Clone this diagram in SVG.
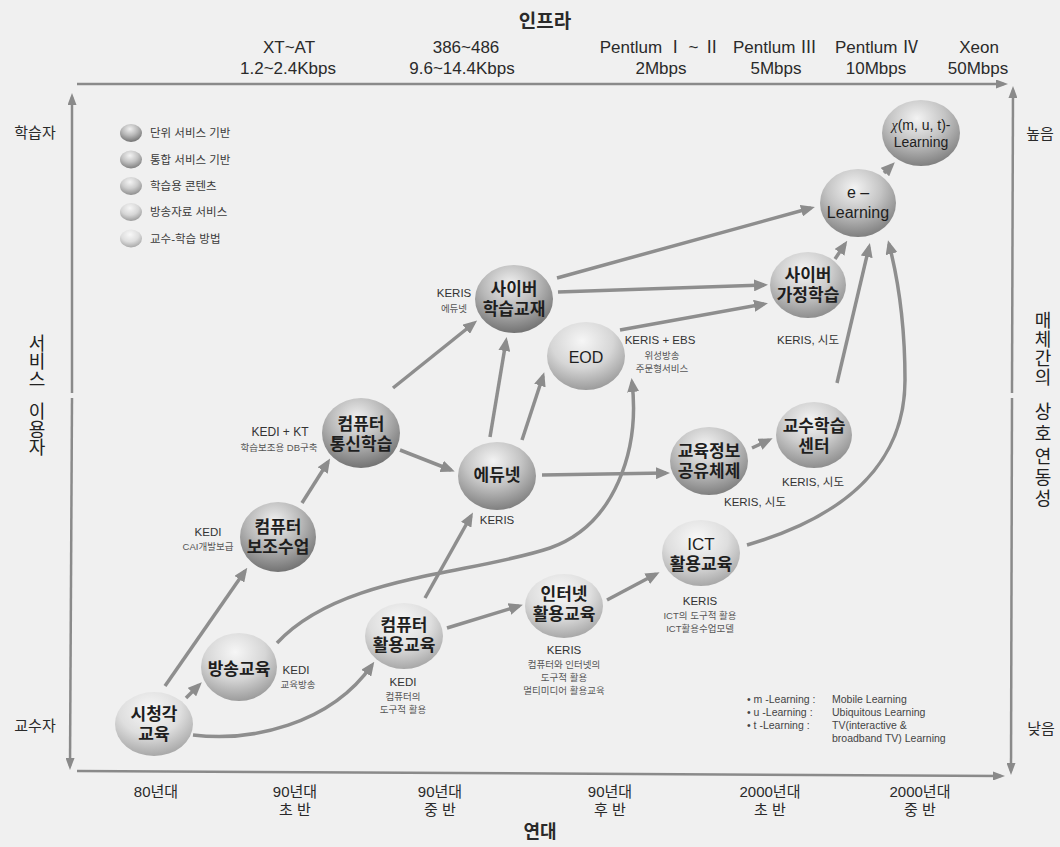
<svg xmlns="http://www.w3.org/2000/svg" width="1060" height="847" viewBox="0 0 1060 847">
<defs>
  <radialGradient id="g1" cx="0.45" cy="0.28" r="0.72">
    <stop offset="0" stop-color="#f0f0f0"/>
    <stop offset="0.5" stop-color="#b8b8b8"/>
    <stop offset="1" stop-color="#737373"/>
  </radialGradient>
  <radialGradient id="g2" cx="0.45" cy="0.28" r="0.72">
    <stop offset="0" stop-color="#f3f3f3"/>
    <stop offset="0.5" stop-color="#c4c4c4"/>
    <stop offset="1" stop-color="#808080"/>
  </radialGradient>
  <radialGradient id="g3" cx="0.45" cy="0.28" r="0.72">
    <stop offset="0" stop-color="#f4f4f4"/>
    <stop offset="0.5" stop-color="#cdcdcd"/>
    <stop offset="1" stop-color="#8e8e8e"/>
  </radialGradient>
  <radialGradient id="g4" cx="0.45" cy="0.28" r="0.72">
    <stop offset="0" stop-color="#f6f6f6"/>
    <stop offset="0.55" stop-color="#d6d6d6"/>
    <stop offset="1" stop-color="#9c9c9c"/>
  </radialGradient>
  <radialGradient id="g5" cx="0.45" cy="0.28" r="0.72">
    <stop offset="0" stop-color="#f8f8f8"/>
    <stop offset="0.55" stop-color="#dedede"/>
    <stop offset="1" stop-color="#a8a8a8"/>
  </radialGradient>
  <marker id="ah" markerUnits="userSpaceOnUse" markerWidth="14" markerHeight="12" refX="10" refY="6" orient="auto">
    <path d="M0,0 L14,6 L0,12 z" fill="#8c8c8c"/>
  </marker>
  <marker id="axh" markerUnits="userSpaceOnUse" markerWidth="12" markerHeight="9" refX="8" refY="4.5" orient="auto">
    <path d="M0,0 L12,4.5 L0,9 z" fill="#8a8a8a"/>
  </marker>
</defs>
<style>
  .ax{stroke:#8a8a8a;stroke-width:2.5;fill:none;marker-end:url(#axh)}
  .c{stroke:#8e8e8e;stroke-width:3.5;fill:none;marker-end:url(#ah)}
  .nl{font-family:"Liberation Sans","Noto Sans CJK KR",sans-serif;font-size:17px;font-weight:700;fill:#1e1e1e;text-anchor:middle;dominant-baseline:central}
  .nle{font-family:"Liberation Sans","Noto Sans CJK KR",sans-serif;font-size:16px;fill:#1e1e1e;text-anchor:middle;dominant-baseline:central}
  .an{font-family:"Liberation Sans","Noto Sans CJK KR",sans-serif;font-size:11.5px;fill:#333;text-anchor:middle;dominant-baseline:central}
  .sm{font-family:"Liberation Sans","Noto Sans CJK KR",sans-serif;font-size:9.5px;fill:#555}
  .top{font-family:"Liberation Sans","Noto Sans CJK KR",sans-serif;font-size:17px;fill:#2a2a2a;text-anchor:middle;dominant-baseline:central}
  .kr{font-family:"Liberation Sans","Noto Sans CJK KR",sans-serif;font-size:15px;fill:#2a2a2a;text-anchor:middle;dominant-baseline:central}
  .vk{font-family:"Noto Sans CJK KR",sans-serif;font-size:18px;fill:#222;text-anchor:middle;writing-mode:vertical-rl}
  .lg{font-family:"Liberation Sans","Noto Sans CJK KR",sans-serif;font-size:11.5px;fill:#3a3a3a;dominant-baseline:central}
  .bl{font-family:"Liberation Sans","Noto Sans CJK KR",sans-serif;font-size:10.5px;fill:#444;dominant-baseline:central}
</style>
<rect width="1060" height="847" fill="#f0f0f0"/>

<g id="axes">
  <path class="ax" d="M77,84 L1004,84"/>
  <path class="ax" d="M77,771 L1001,776"/>
  <path class="ax" d="M72,393 L72,97"/>
  <path class="ax" d="M72,398 L70,766"/>
  <path class="ax" d="M1012,393 L1013,90"/>
  <path class="ax" d="M1012,398 L1011,771"/>
</g>

<g id="axis-labels">
  <text class="top" x="545" y="21" style="font-size:19px;font-weight:700">인프라</text>
  <text class="top" x="289" y="47">XT~AT</text>
  <text class="top" x="288" y="68">1.2~2.4Kbps</text>
  <text class="top" x="466" y="47">386~486</text>
  <text class="top" x="462" y="68">9.6~14.4Kbps</text>
  <text class="top" x="660" y="47">Pentlum Ⅰ ~ Ⅱ</text>
  <text class="top" x="661" y="68">2Mbps</text>
  <text class="top" x="775" y="47">Pentlum Ⅲ</text>
  <text class="top" x="776" y="68">5Mbps</text>
  <text class="top" x="877" y="47">Pentlum Ⅳ</text>
  <text class="top" x="876" y="68">10Mbps</text>
  <text class="top" x="979" y="47">Xeon</text>
  <text class="top" x="978" y="68">50Mbps</text>

  <text class="kr" x="35" y="132">학습자</text>
  <text class="kr" x="35" y="725">교수자</text>
  <text class="kr" x="1040" y="133">높음</text>
  <text class="kr" x="1041" y="728">낮음</text>

  <text class="vk" x="37" y="361">서비스</text>
  <text class="vk" x="37" y="429">이용자</text>
  <text class="vk" x="1043" y="349" style="letter-spacing:1px">매체간의</text>
  <text class="vk" x="1043" y="424" style="letter-spacing:4px">상호</text>
  <text class="vk" x="1043" y="479" style="letter-spacing:3px">연동성</text>

  <text class="kr" x="156" y="791">80년대</text>
  <text class="kr"><tspan x="295" y="791">90년대</tspan><tspan x="295" y="809">초  반</tspan></text>
  <text class="kr"><tspan x="440" y="791">90년대</tspan><tspan x="440" y="809">중  반</tspan></text>
  <text class="kr"><tspan x="610" y="791">90년대</tspan><tspan x="610" y="809">후  반</tspan></text>
  <text class="kr"><tspan x="770" y="791">2000년대</tspan><tspan x="770" y="809">초  반</tspan></text>
  <text class="kr"><tspan x="920" y="791">2000년대</tspan><tspan x="920" y="809">중  반</tspan></text>
  <text class="kr" x="540" y="832" style="font-size:18px;font-weight:700">연대</text>
</g>

<g id="legend">
  <ellipse cx="131" cy="133" rx="11" ry="9" fill="url(#g1)"/>
  <text class="lg" x="150" y="133">단위 서비스 기반</text>
  <ellipse cx="131" cy="159.5" rx="11" ry="9" fill="url(#g2)"/>
  <text class="lg" x="150" y="159.5">통합 서비스 기반</text>
  <ellipse cx="131" cy="186" rx="11" ry="9" fill="url(#g3)"/>
  <text class="lg" x="150" y="186">학습용 콘텐츠</text>
  <ellipse cx="131" cy="212" rx="11" ry="9" fill="url(#g4)"/>
  <text class="lg" x="150" y="212">방송자료 서비스</text>
  <ellipse cx="131" cy="238.5" rx="11" ry="9" fill="url(#g5)"/>
  <text class="lg" x="150" y="238.5">교수-학습 방법</text>
</g>

<g id="legend2">
  <text class="bl"><tspan x="747" y="699">• m -Learning :</tspan><tspan x="747" y="712">• u -Learning :</tspan><tspan x="747" y="725">• t  -Learning :</tspan></text>
  <text class="bl"><tspan x="832" y="699">Mobile Learning</tspan><tspan x="832" y="712">Ubiquitous Learning</tspan><tspan x="832" y="725">TV(interactive &amp;</tspan><tspan x="832" y="738">broadband TV) Learning</tspan></text>
</g>

<g id="connectors">
  <path class="c" d="M165,686 L245,571"/>
  <path class="c" d="M186,698 L199,685"/>
  <path class="c" d="M193,735 C250,742 330,725 372,665"/>
  <path class="c" d="M277,643 C340,575 470,575 550,548 C615,525 640,450 632,382"/>
  <path class="c" d="M425,598 L471,516"/>
  <path class="c" d="M447,628 L519,606"/>
  <path class="c" d="M607,600 L656,574"/>
  <path class="c" d="M747,545 C850,515 905,460 905,380 C905,320 897,275 889,244"/>
  <path class="c" d="M542,475 L666,473"/>
  <path class="c" d="M752,448 L769,440"/>
  <path class="c" d="M837,383 L869,247"/>
  <path class="c" d="M835,259 L845,244"/>
  <path class="c" d="M557,278 L811,208"/>
  <path class="c" d="M558,292 L764,285"/>
  <path class="c" d="M620,330 L764,304"/>
  <path class="c" d="M884,173 L892,165"/>
  <path class="c" d="M490,437 L506,341"/>
  <path class="c" d="M522,440 L543,376"/>
  <path class="c" d="M393,388 L474,323"/>
  <path class="c" d="M400,450 L451,470"/>
  <path class="c" d="M302,503 L328,462"/>
</g>

<g id="n-sichung">
  <ellipse cx="154" cy="724" rx="39" ry="32" fill="url(#g5)"/>
  <text class="nl"><tspan x="154" y="713.5">시청각</tspan><tspan x="154" y="733.5">교육</tspan></text>
</g>
<g id="n-bangsong">
  <ellipse cx="239" cy="667" rx="38" ry="34" fill="url(#g4)"/>
  <text class="nl" x="239" y="669">방송교육</text>
  <text class="an"><tspan x="296" y="670">KEDI</tspan><tspan class="sm" x="298" y="684">교육방송</tspan></text>
</g>
<g id="n-comp-hwal">
  <ellipse cx="404" cy="636" rx="39" ry="33" fill="url(#g5)"/>
  <text class="nl"><tspan x="404" y="625">컴퓨터</tspan><tspan x="404" y="645">활용교육</tspan></text>
  <text class="an"><tspan x="403" y="682">KEDI</tspan><tspan class="sm" x="403" y="696">컴퓨터의</tspan><tspan class="sm" x="403" y="709">도구적 활용</tspan></text>
</g>
<g id="n-comp-bojo">
  <ellipse cx="278" cy="537" rx="38" ry="35" fill="url(#g1)"/>
  <text class="nl"><tspan x="278" y="527">컴퓨터</tspan><tspan x="278" y="547">보조수업</tspan></text>
  <text class="an"><tspan x="208" y="532">KEDI</tspan><tspan class="sm" x="208" y="546">CAI개발보급</tspan></text>
</g>
<g id="n-comp-tongsin">
  <ellipse cx="361" cy="433" rx="39" ry="35" fill="url(#g1)"/>
  <text class="nl"><tspan x="361" y="424">컴퓨터</tspan><tspan x="361" y="444">통신학습</tspan></text>
  <text class="an"><tspan x="280" y="432" style="font-size:12px">KEDI + KT</tspan><tspan class="sm" x="279" y="447">학습보조용 DB구축</tspan></text>
</g>
<g id="n-edunet">
  <ellipse cx="497" cy="476" rx="39" ry="34" fill="url(#g2)"/>
  <text class="nl" x="497" y="475">에듀넷</text>
  <text class="an" x="497" y="520">KERIS</text>
</g>
<g id="n-cyber-text">
  <ellipse cx="514" cy="299" rx="39" ry="34" fill="url(#g1)"/>
  <text class="nl"><tspan x="514" y="289">사이버</tspan><tspan x="514" y="309">학습교재</tspan></text>
  <text class="an"><tspan x="454" y="293">KERIS</tspan><tspan class="sm" x="454" y="308">에듀넷</tspan></text>
</g>
<g id="n-eod">
  <ellipse cx="586" cy="356" rx="39" ry="34" fill="url(#g4)"/>
  <text class="nle" x="586" y="357">EOD</text>
  <text class="an"><tspan x="660" y="340">KERIS + EBS</tspan><tspan class="sm" x="662" y="355">위성방송</tspan><tspan class="sm" x="662" y="368">주문형서비스</tspan></text>
</g>
<g id="n-gyoyuk-info">
  <ellipse cx="709" cy="461" rx="39" ry="34" fill="url(#g2)"/>
  <text class="nl"><tspan x="709" y="451">교육정보</tspan><tspan x="709" y="471">공유체제</tspan></text>
  <text class="an" x="755" y="502">KERIS, 시도</text>
</g>
<g id="n-center">
  <ellipse cx="814" cy="435" rx="38" ry="33" fill="url(#g3)"/>
  <text class="nl"><tspan x="814" y="426">교수학습</tspan><tspan x="814" y="446">센터</tspan></text>
  <text class="an" x="813" y="482">KERIS, 시도</text>
</g>
<g id="n-cyber-home">
  <ellipse cx="808" cy="285" rx="38" ry="33" fill="url(#g3)"/>
  <text class="nl"><tspan x="808" y="275">사이버</tspan><tspan x="808" y="295">가정학습</tspan></text>
  <text class="an" x="808" y="340">KERIS, 시도</text>
</g>
<g id="n-elearning">
  <ellipse cx="858" cy="203" rx="38" ry="34" fill="url(#g2)"/>
  <text class="nle"><tspan x="858" y="192">e –</tspan><tspan x="858" y="211.5">Learning</tspan></text>
</g>
<g id="n-xlearning">
  <ellipse cx="921" cy="133" rx="39" ry="33" fill="url(#g2)"/>
  <text class="nle" style="font-size:14px"><tspan x="921" y="125"><tspan font-style="italic" font-family="Liberation Serif">χ</tspan>(m, u, t)-</tspan><tspan x="921" y="142">Learning</tspan></text>
</g>
<g id="n-internet">
  <ellipse cx="564" cy="606" rx="39" ry="32" fill="url(#g5)"/>
  <text class="nl"><tspan x="564" y="594">인터넷</tspan><tspan x="564" y="614">활용교육</tspan></text>
  <text class="an"><tspan x="564" y="650">KERIS</tspan><tspan class="sm" x="564" y="664">컴퓨터와 인터넷의</tspan><tspan class="sm" x="564" y="677">도구적 활용</tspan><tspan class="sm" x="564" y="690">멀티미디어 활용교육</tspan></text>
</g>
<g id="n-ict">
  <ellipse cx="701" cy="553" rx="39" ry="33" fill="url(#g5)"/>
  <text class="nl"><tspan x="701" y="544" style="font-weight:400">ICT</tspan><tspan x="701" y="564">활용교육</tspan></text>
  <text class="an"><tspan x="700" y="601">KERIS</tspan><tspan class="sm" x="700" y="615">ICT의 도구적 활용</tspan><tspan class="sm" x="700" y="628">ICT활용수업모델</tspan></text>
</g>
</svg>
